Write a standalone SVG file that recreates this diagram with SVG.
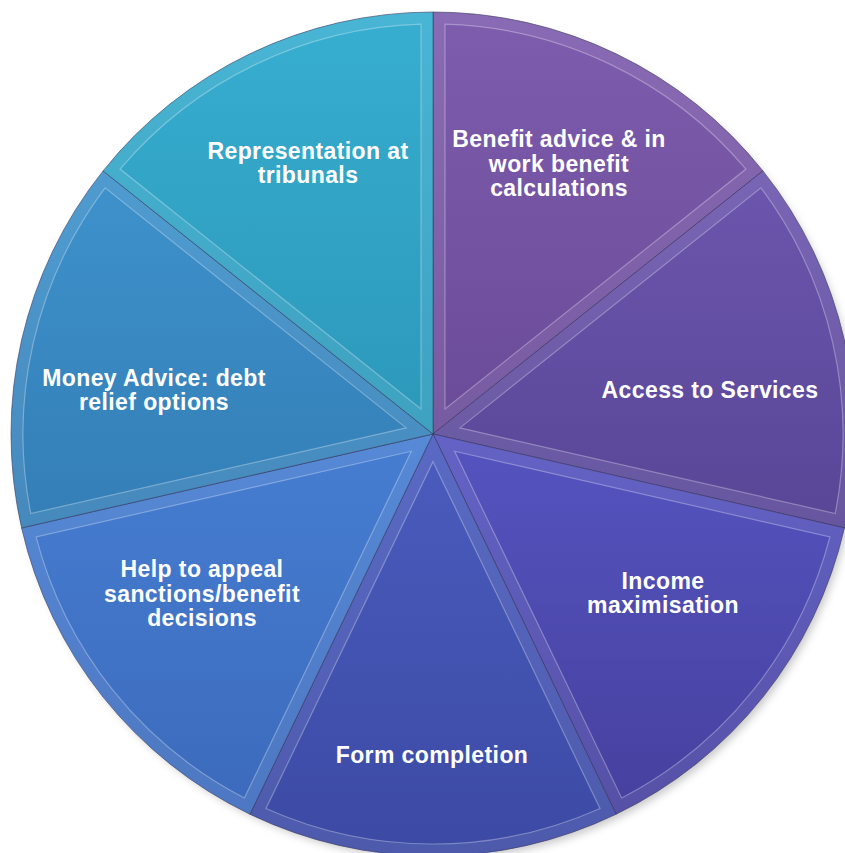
<svg xmlns="http://www.w3.org/2000/svg" width="845" height="853" viewBox="0 0 845 853">
<style>
.lbl{font-family:"Liberation Sans",Arial,sans-serif;font-weight:bold;font-size:23px;fill:#ffffff;letter-spacing:0.4px;text-anchor:middle}
.face{stroke:#2a2850;stroke-opacity:0.55;stroke-width:1}
.bevel{fill:#ffffff;fill-opacity:0.09;fill-rule:evenodd}
.inner{fill:none;stroke:#ffffff;stroke-opacity:0.3;stroke-width:1.2}
</style>
<defs>
<filter id="sh" x="-10%" y="-10%" width="120%" height="120%"><feGaussianBlur stdDeviation="4"/></filter>
<linearGradient id="g0" x1="0" y1="0" x2="0" y2="1"><stop offset="0" stop-color="#7e5cae"/><stop offset="1" stop-color="#6a4b98"/></linearGradient>
<linearGradient id="g1" x1="0" y1="0" x2="0" y2="1"><stop offset="0" stop-color="#6c56ae"/><stop offset="1" stop-color="#584696"/></linearGradient>
<linearGradient id="g2" x1="0" y1="0" x2="0" y2="1"><stop offset="0" stop-color="#5554c0"/><stop offset="1" stop-color="#46409e"/></linearGradient>
<linearGradient id="g3" x1="0" y1="0" x2="0" y2="1"><stop offset="0" stop-color="#4a5cbe"/><stop offset="1" stop-color="#3c4aa4"/></linearGradient>
<linearGradient id="g4" x1="0" y1="0" x2="0" y2="1"><stop offset="0" stop-color="#467ed2"/><stop offset="1" stop-color="#3c6abc"/></linearGradient>
<linearGradient id="g5" x1="0" y1="0" x2="0" y2="1"><stop offset="0" stop-color="#3e92cc"/><stop offset="1" stop-color="#347eb6"/></linearGradient>
<linearGradient id="g6" x1="0" y1="0" x2="0" y2="1"><stop offset="0" stop-color="#37aed0"/><stop offset="1" stop-color="#2c98ba"/></linearGradient>
</defs>
<circle cx="437" cy="439" r="420" fill="#000000" fill-opacity="0.22" filter="url(#sh)"/>
<g id="benefit-advice">
<path class="face" fill="url(#g0)" d="M433 434 L433 12 A422 422 0 0 1 762.93 170.89 Z"/>
<path class="bevel" d="M433 434 L433 12 A422 422 0 0 1 762.93 170.89 Z M445 409.08 L445 24.18 A410 410 0 0 1 745.92 169.08 Z"/>
<path class="inner" d="M445 409.08 L445 24.18 A410 410 0 0 1 745.92 169.08 Z"/>
<text class="lbl" x="559" y="147">Benefit advice &amp; in</text>
<text class="lbl" x="559" y="172">work benefit</text>
<text class="lbl" x="559" y="196">calculations</text>
</g>
<g id="access-to-services">
<path class="face" fill="url(#g1)" d="M433 434 L762.93 170.89 A422 422 0 0 1 844.42 527.9 Z"/>
<path class="bevel" d="M433 434 L762.93 170.89 A422 422 0 0 1 844.42 527.9 Z M459.97 427.85 L760.9 187.86 A410 410 0 0 1 835.22 513.49 Z"/>
<path class="inner" d="M459.97 427.85 L760.9 187.86 A410 410 0 0 1 835.22 513.49 Z"/>
<text class="lbl" x="710" y="398">Access to Services</text>
</g>
<g id="income-maximisation">
<path class="face" fill="url(#g2)" d="M433 434 L844.42 527.9 A422 422 0 0 1 616.1 814.21 Z"/>
<path class="bevel" d="M433 434 L844.42 527.9 A422 422 0 0 1 616.1 814.21 Z M454.63 451.25 L829.89 536.89 A410 410 0 0 1 621.63 798.04 Z"/>
<path class="inner" d="M454.63 451.25 L829.89 536.89 A410 410 0 0 1 621.63 798.04 Z"/>
<text class="lbl" x="663" y="589">Income</text>
<text class="lbl" x="663" y="613">maximisation</text>
</g>
<g id="form-completion">
<path class="face" fill="url(#g3)" d="M433 434 L616.1 814.21 A422 422 0 0 1 249.9 814.21 Z"/>
<path class="bevel" d="M433 434 L616.1 814.21 A422 422 0 0 1 249.9 814.21 Z M433 461.66 L600.01 808.45 A410 410 0 0 1 265.99 808.45 Z"/>
<path class="inner" d="M433 461.66 L600.01 808.45 A410 410 0 0 1 265.99 808.45 Z"/>
<text class="lbl" x="432" y="763">Form completion</text>
</g>
<g id="help-to-appeal">
<path class="face" fill="url(#g4)" d="M433 434 L249.9 814.21 A422 422 0 0 1 21.58 527.9 Z"/>
<path class="bevel" d="M433 434 L249.9 814.21 A422 422 0 0 1 21.58 527.9 Z M411.37 451.25 L244.37 798.04 A410 410 0 0 1 36.11 536.89 Z"/>
<path class="inner" d="M411.37 451.25 L244.37 798.04 A410 410 0 0 1 36.11 536.89 Z"/>
<text class="lbl" x="202" y="577">Help to appeal</text>
<text class="lbl" x="202" y="602">sanctions/benefit</text>
<text class="lbl" x="202" y="626">decisions</text>
</g>
<g id="money-advice">
<path class="face" fill="url(#g5)" d="M433 434 L21.58 527.9 A422 422 0 0 1 103.07 170.89 Z"/>
<path class="bevel" d="M433 434 L21.58 527.9 A422 422 0 0 1 103.07 170.89 Z M406.03 427.85 L30.78 513.49 A410 410 0 0 1 105.1 187.86 Z"/>
<path class="inner" d="M406.03 427.85 L30.78 513.49 A410 410 0 0 1 105.1 187.86 Z"/>
<text class="lbl" x="154" y="386">Money Advice: debt</text>
<text class="lbl" x="154" y="410">relief options</text>
</g>
<g id="representation-at-tribunals">
<path class="face" fill="url(#g6)" d="M433 434 L103.07 170.89 A422 422 0 0 1 433 12 Z"/>
<path class="bevel" d="M433 434 L103.07 170.89 A422 422 0 0 1 433 12 Z M421 409.08 L120.08 169.08 A410 410 0 0 1 421 24.18 Z"/>
<path class="inner" d="M421 409.08 L120.08 169.08 A410 410 0 0 1 421 24.18 Z"/>
<text class="lbl" x="308" y="159">Representation at</text>
<text class="lbl" x="308" y="183">tribunals</text>
</g>
</svg>
